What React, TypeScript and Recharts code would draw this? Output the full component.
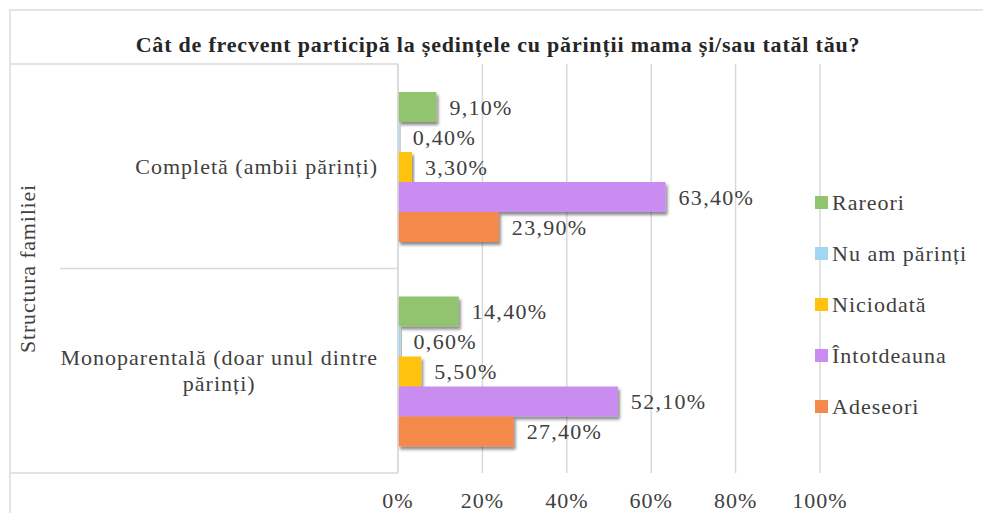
import React from 'react';
import { BarChart, Bar, XAxis, YAxis, CartesianGrid, LabelList } from 'recharts';

const categories = ['Completă (ambii părinți)', 'Monoparentală (doar unul dintre părinți)'];
const categoryLines = [['Completă (ambii părinți)'], ['Monoparentală (doar unul dintre', 'părinți)']];
const seriesNames = ['Rareori', 'Nu am părinți', 'Niciodată', 'Întotdeauna', 'Adeseori'];
const seriesKeys = ['rareori', 'nuAm', 'niciodata', 'intotdeauna', 'adeseori'];
const rareori = [9.1, 14.4];
const nuAm = [0.4, 0.6];
const niciodata = [3.3, 5.5];
const intotdeauna = [63.4, 52.1];
const adeseori = [23.9, 27.4];
const xTicks = [0, 20, 40, 60, 80, 100];
const title = 'Cât de frecvent participă la ședințele cu părinții mama și/sau tatăl tău?';
const yTitle = 'Structura familiei';

const colors = ['#92C36E', '#A0D6F2', '#FFC20E', '#C98DF2', '#F4894A'];

const W = 983;
const H = 513;
const M_TOP = 64;
const X_AXIS_H = 40;
const Y_AXIS_W = 398;
const M_RIGHT = 163;
const PLOT_H = H - M_TOP - X_AXIS_H;

const FONT = '"Liberation Serif", "Times New Roman", serif';
const TXT = '#404040';
const LINE = '#d9d9d9';
const TS = { fontFamily: FONT };

const data = categories.map((c, i) => ({
  name: c,
  rareori: rareori[i],
  nuAm: nuAm[i],
  niciodata: niciodata[i],
  intotdeauna: intotdeauna[i],
  adeseori: adeseori[i],
}));

const fmt = (v: number) => v.toFixed(2).replace('.', ',') + '%';

let canvasCtx: CanvasRenderingContext2D | null = null;
const measure = (s: string, size: number, spacing: number) => {
  if (!canvasCtx) {
    const c = document.createElement('canvas');
    canvasCtx = c.getContext('2d');
  }
  if (!canvasCtx) return s.length * size * 0.45;
  canvasCtx.font = `${size}px ${FONT}`;
  return canvasCtx.measureText(s).width + spacing * s.length;
};

const YTick = (props: any) => {
  const { x, y, payload, index } = props;
  const lines = categoryLines[index] || [payload.value];
  const size = 22;
  const sp = 1;
  const widths = lines.map((l: string) => measure(l, size, sp));
  const blockW = Math.max(...widths);
  const right = x - 12;
  const cx = right - blockW / 2;
  const lh = 26;
  const startY = y - ((lines.length - 1) * lh) / 2;
  const bandHalf = PLOT_H / categories.length / 2;
  const axisX = x + 8;
  return (
    <g>
      {index === 0 && <line x1={11} x2={axisX} y1={y - bandHalf} y2={y - bandHalf} stroke={LINE} strokeWidth={1.5} />}
      {index < categories.length - 1 && <line x1={60} x2={axisX} y1={y + bandHalf} y2={y + bandHalf} stroke={LINE} strokeWidth={1.5} />}
      {index === categories.length - 1 && <line x1={11} x2={axisX} y1={y + bandHalf} y2={y + bandHalf} stroke={LINE} strokeWidth={1.5} />}
      {lines.map((l: string, i: number) => (
        <text key={i} x={cx} y={startY + i * lh} dy="0.35em" textAnchor="middle" style={TS} fontSize={size} letterSpacing={sp} fill={TXT}>
          {l}
        </text>
      ))}
    </g>
  );
};

const XTick = (props: any) => {
  const { x, y, payload } = props;
  return (
    <text x={x} y={y + 27} textAnchor="middle" style={TS} fontSize={22} letterSpacing={1} fill={TXT}>
      {payload.value + '%'}
    </text>
  );
};

const ValueLabel = (props: any) => {
  const { x, y, width, height, value } = props;
  return (
    <text x={x + width + 13} y={y + height / 2} dy="0.35em" textAnchor="start" style={TS} fontSize={22} letterSpacing={1.3} fill={TXT}>
      {fmt(value)}
    </text>
  );
};

const YTitle = (props: any) => {
  const { viewBox } = props;
  const cx = viewBox.x + 27;
  const cy = viewBox.y + viewBox.height / 2;
  return (
    <text x={cx} y={cy} dy="0.35em" textAnchor="middle" transform={`rotate(-90, ${cx}, ${cy})`} style={TS} fontSize={22} letterSpacing={0.8} fill={TXT}>
      {yTitle}
    </text>
  );
};

const BarShape = (props: any) => {
  const { x, y, width, height, fill } = props;
  if (!width || width <= 0) return null;
  return <rect x={x} y={y} width={width} height={height} fill={fill} filter="url(#barShadow)" />;
};

export default function App() {
  return (
    <div style={{ position: 'absolute', left: 0, top: 0, width: W, height: H, background: '#fff', overflow: 'hidden' }}>
      <svg width={0} height={0} style={{ position: 'absolute' }}>
        <defs>
          <filter id="barShadow" x="-10%" y="-20%" width="130%" height="160%">
            <feDropShadow dx={2} dy={3} stdDeviation={1.6} floodColor="#000" floodOpacity={0.45} />
          </filter>
        </defs>
      </svg>
      <div style={{ position: 'absolute', left: 9, top: 9, right: 0, bottom: 0, borderTop: '2px solid #e4e4e4', borderLeft: '2px solid #e4e4e4' }} />
      <div style={{ position: 'absolute', left: 0, width: 996, top: 32, textAlign: 'center', fontFamily: FONT, fontWeight: 'bold', fontSize: 22, letterSpacing: 0.8, color: '#262626', whiteSpace: 'nowrap' }}>
        {title}
      </div>
      <div style={{ position: 'absolute', left: 0, top: 0 }}>
        <BarChart
          width={W}
          height={H}
          data={data}
          layout="vertical"
          margin={{ top: M_TOP, right: M_RIGHT, bottom: 0, left: 0 }}
          barCategoryGap={28}
          barGap={0}
        >
          <CartesianGrid horizontal={false} stroke={LINE} strokeWidth={1.5} />
          <XAxis type="number" domain={[0, 100]} ticks={xTicks} height={X_AXIS_H} axisLine={false} tickLine={false} tick={<XTick />} interval={0} />
          <YAxis
            type="category"
            dataKey="name"
            width={Y_AXIS_W}
            axisLine={{ stroke: LINE, strokeWidth: 1.5 }}
            tickLine={false}
            tick={<YTick />}
            interval={0}
            label={<YTitle />}
          />
          {seriesKeys.map((k, i) => (
            <Bar key={k} dataKey={k} name={seriesNames[i]} fill={colors[i]} isAnimationActive={false} shape={<BarShape />}>
              <LabelList dataKey={k} content={<ValueLabel />} />
            </Bar>
          ))}
        </BarChart>
      </div>
      <div style={{ position: 'absolute', left: 815, top: 177, width: 170, fontFamily: FONT, fontSize: 22, letterSpacing: 1, color: TXT }}>
        {seriesNames.map((n, i) => (
          <div key={n} style={{ display: 'flex', alignItems: 'center', height: 51 }}>
            <span style={{ width: 13, height: 13, background: colors[i], display: 'inline-block', marginRight: 4, flexShrink: 0 }} />
            <span>{n}</span>
          </div>
        ))}
      </div>
    </div>
  );
}
